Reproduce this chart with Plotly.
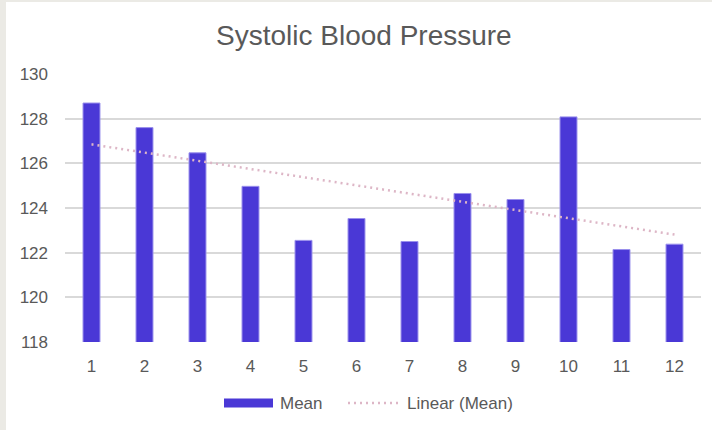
import numpy as np
import plotly.graph_objects as go

months = list(range(1, 13))
mean_sbp = [128.70, 127.60, 126.47, 124.97, 122.55, 123.53,
            122.50, 124.65, 124.38, 128.08, 122.14, 122.38]
y_ticks = [118, 120, 122, 124, 126, 128, 130]

W, H = 712, 430
L, R, T, B = 65, 11, 74, 88
PW, PH = W - L - R, H - T - B


def px(x):
    return (x - L) / PW


def py(y):
    return (H - B - y) / PH


slope, intercept = np.polyfit(months, mean_sbp, 1)
trend = [slope * m + intercept for m in months]

BAR = "#4A38D6"
TXT = "#595959"
TREND = "#DDB6C6"
FONT = "Liberation Sans, Arial, sans-serif"
FS = 17

fig = go.Figure()
fig.add_trace(go.Bar(
    x=months, y=mean_sbp, name="Mean",
    marker=dict(color=BAR, line=dict(color="#9A90EC", width=1)),
    width=0.32, showlegend=False,
))
fig.add_trace(go.Scatter(
    x=months, y=trend, mode="lines", name="Linear (Mean)",
    line=dict(color=TREND, width=2.5, dash="2px,4px"),
    showlegend=False, hoverinfo="skip",
))

shapes = [
    # card frame
    dict(type="rect", xref="paper", yref="paper", x0=px(0), x1=px(6), y0=py(H), y1=py(0),
         fillcolor="#EBEAE5", line=dict(width=0), layer="below"),
    dict(type="rect", xref="paper", yref="paper", x0=px(0), x1=px(W), y0=py(2), y1=py(0),
         fillcolor="#EBEAE5", line=dict(width=0), layer="below"),
    # legend keys
    dict(type="rect", xref="paper", yref="paper", x0=px(224), x1=px(273), y0=py(407.5), y1=py(398.5),
         fillcolor=BAR, line=dict(width=0)),
    dict(type="line", xref="paper", yref="paper", x0=px(348), x1=px(399), y0=py(403), y1=py(403),
         line=dict(color=TREND, width=2.5, dash="2px,4px")),
]
annotations = [
    dict(text="Systolic Blood Pressure", xref="paper", yref="paper", x=px(363.5), y=py(36),
         xanchor="center", yanchor="middle", showarrow=False,
         font=dict(size=28, color=TXT, family=FONT)),
    dict(text="Mean", xref="paper", yref="paper", x=px(278), y=py(403), xanchor="left",
         yanchor="middle", showarrow=False, font=dict(size=FS, color=TXT, family=FONT)),
    dict(text="Linear (Mean)", xref="paper", yref="paper", x=px(405), y=py(403), xanchor="left",
         yanchor="middle", showarrow=False, font=dict(size=FS, color=TXT, family=FONT)),
]

fig.update_layout(
    width=W, height=H,
    margin=dict(l=L, r=R, t=T, b=B),
    paper_bgcolor="white", plot_bgcolor="white",
    font=dict(family=FONT, color=TXT, size=FS),
    shapes=shapes, annotations=annotations,
    xaxis=dict(range=[0.5, 12.5], tickmode="array", tickvals=months,
               ticktext=[str(m) for m in months], showgrid=False, zeroline=False,
               showline=False, ticks="", ticklabelstandoff=12,
               tickfont=dict(size=FS, color=TXT, family=FONT)),
    yaxis=dict(range=[118, 130], tickmode="array", tickvals=y_ticks,
               ticktext=[str(v) for v in y_ticks], showgrid=True,
               gridcolor="#D9D9D9", gridwidth=1.5, zeroline=False, showline=False,
               ticks="", ticklabelstandoff=16,
               tickfont=dict(size=FS, color=TXT, family=FONT)),
    bargap=0.68,
)

fig.write_html("out.html", config={"displayModeBar": False},
               post_script="document.body.style.margin='0';")
